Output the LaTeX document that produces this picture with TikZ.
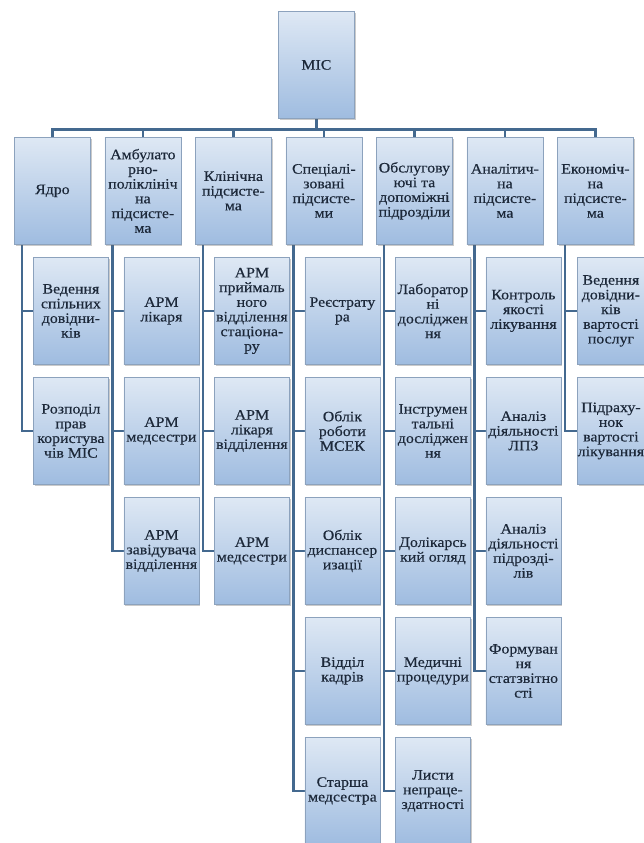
\documentclass[tikz,border=0pt]{standalone}
\usepackage{fontspec}
\setmainfont{Liberation Serif}[FakeStretch=1.1,FakeBold=0.35]
\usetikzlibrary{shadows}
\pgfdeclarelayer{background}
\pgfsetlayers{background,main}
\definecolor{boxtop}{HTML}{DEE8F4}
\definecolor{boxbot}{HTML}{9FBCE0}
\definecolor{boxedge}{HTML}{8CA2BD}
\definecolor{linkblue}{HTML}{44698F}
\definecolor{inkdark}{HTML}{1C2839}
\begin{document}
\begin{tikzpicture}[x=1pt,y=-1pt,
  unit/.style={draw=boxedge, line width=0.8pt, top color=boxtop, bottom color=boxbot,
    minimum width=76pt, minimum height=107pt, inner sep=0pt, anchor=north west,
    align=center, text=inkdark, font=\fontsize{14.4}{14.7}\selectfont,
    drop shadow={shadow xshift=1.2pt, shadow yshift=-1.2pt, opacity=0.35, fill=black!60}},
  leaf/.style={unit, minimum width=75pt},
  narrowleaf/.style={unit, minimum width=67pt},
  link/.style={draw=linkblue, line width=2.7pt}]
\useasboundingbox (0,0) rectangle (644,843);

% root
\node[unit] (root) at (278,11) {МІС};

% subsystems
\node[unit] (c1) at (14,137)    {Ядро};
\node[unit] (c2) at (104.5,137) {Амбулато\\рно-\\поліклініч\\на\\підсисте-\\ма};
\node[unit] (c3) at (195,137)   {Клінічна\\підсисте-\\ма};
\node[unit] (c4) at (285.5,137) {Спеціалі-\\зовані\\підсисте-\\ми};
\node[unit] (c5) at (376,137)   {Обслугову\\ючі та\\допоміжні\\підрозділи};
\node[unit] (c6) at (466.5,137) {Аналітич-\\на\\підсисте-\\ма};
\node[unit] (c7) at (557,137)   {Економіч-\\на\\підсисте-\\ма};

% core
\node[leaf] (c1a) at (33,257) {Ведення\\спільних\\довідни-\\ків};
\node[leaf] (c1b) at (33,377) {Розподіл\\прав\\користува\\чів МІС};

% outpatient
\node[leaf] (c2a) at (123.5,257) {АРМ\\лікаря};
\node[leaf] (c2b) at (123.5,377) {АРМ\\медсестри};
\node[leaf] (c2c) at (123.5,497) {АРМ\\завідувача\\відділення};

% clinical
\node[leaf] (c3a) at (214,257) {АРМ\\приймаль\\ного\\відділення\\стаціона-\\ру};
\node[leaf] (c3b) at (214,377) {АРМ\\лікаря\\відділення};
\node[leaf] (c3c) at (214,497) {АРМ\\медсестри};

% specialised
\node[leaf] (c4a) at (304.5,257) {Реєстрату\\ра};
\node[leaf] (c4b) at (304.5,377) {Облік\\роботи\\МСЕК};
\node[leaf] (c4c) at (304.5,497) {Облік\\диспансер\\изації};
\node[leaf] (c4d) at (304.5,617) {Відділ\\кадрів};
\node[leaf] (c4e) at (304.5,737) {Старша\\медсестра};

% service units
\node[leaf] (c5a) at (395,257) {Лаборатор\\ні\\досліджен\\ня};
\node[leaf] (c5b) at (395,377) {Інструмен\\тальні\\досліджен\\ня};
\node[leaf] (c5c) at (395,497) {Долікарсь\\кий огляд};
\node[leaf] (c5d) at (395,617) {Медичні\\процедури};
\node[leaf] (c5e) at (395,737) {Листи\\непраце-\\здатності};

% analytics
\node[leaf] (c6a) at (485.5,257) {Контроль\\якості\\лікування};
\node[leaf] (c6b) at (485.5,377) {Аналіз\\діяльності\\ЛПЗ};
\node[leaf] (c6c) at (485.5,497) {Аналіз\\діяльності\\підрозді-\\лів};
\node[leaf] (c6d) at (485.5,617) {Формуван\\ня\\статзвітно\\сті};

% economics
\node[narrowleaf] (c7a) at (577,257) {Ведення\\довідни-\\ків\\вартості\\послуг};
\node[narrowleaf] (c7b) at (577,377) {Підраху-\\нок\\вартості\\лікування};

\begin{pgfonlayer}{background}
  \foreach \c in {c1,c2,c3,c4,c5,c6,c7}
    \draw[link] (root.south) -- ++(0,11) -| (\c.north);
  \foreach \p/\k in {c1/c1a,c1/c1b,
                     c2/c2a,c2/c2b,c2/c2c,
                     c3/c3a,c3/c3b,c3/c3c,
                     c4/c4a,c4/c4b,c4/c4c,c4/c4d,c4/c4e,
                     c5/c5a,c5/c5b,c5/c5c,c5/c5d,c5/c5e,
                     c6/c6a,c6/c6b,c6/c6c,c6/c6d,
                     c7/c7a,c7/c7b}
    \draw[link] ([xshift=8pt]\p.south west) |- (\k.west);
\end{pgfonlayer}
\end{tikzpicture}
\end{document}
